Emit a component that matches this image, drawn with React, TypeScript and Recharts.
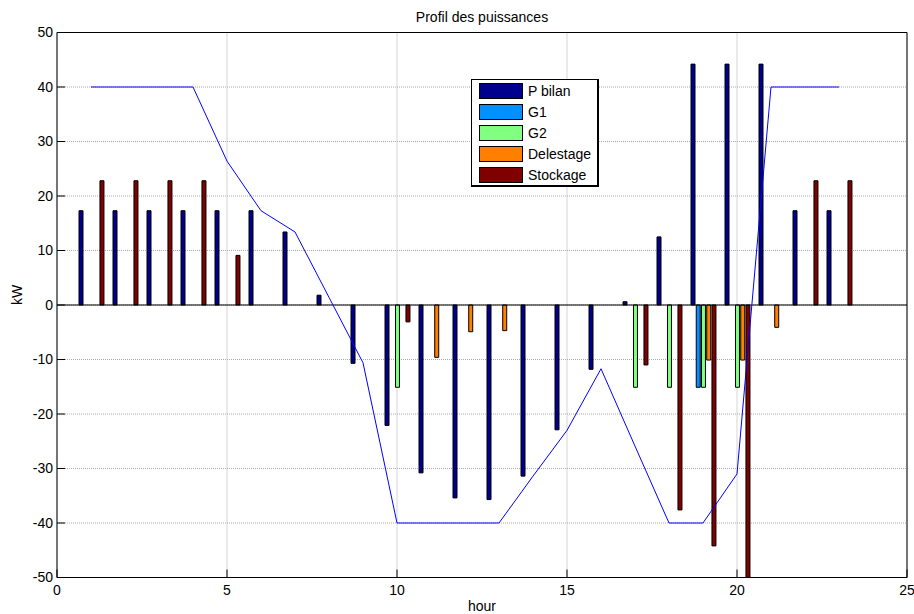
import React from 'react';
import { ComposedChart, Bar, Line, XAxis, YAxis, CartesianGrid, Legend, ReferenceLine } from 'recharts';

// heures 1..23
const HOURS = [1, 2, 3, 4, 5, 6, 7, 8, 9, 10, 11, 12, 13, 14, 15, 16, 17, 18, 19, 20, 21, 22, 23];

const P_BILAN = [17.3, 17.3, 17.3, 17.3, 17.3, 17.3, 13.4, 1.8, -10.7, -22.1, -30.8, -35.4, -35.7, -31.4, -22.9, -11.8, 0.6, 12.5, 44.2, 44.2, 44.2, 17.3, 17.3];
const G1 = [null, null, null, null, null, null, null, null, null, null, null, null, null, null, null, null, null, null, -15.1, null, null, null, null];
const G2 = [null, null, null, null, null, null, null, null, null, -15.1, null, null, null, null, null, null, -15.1, -15.1, -15.1, -15.1, null, null, null];
const DELESTAGE = [null, null, null, null, null, null, null, null, null, null, -9.6, -4.9, -4.7, null, null, null, null, null, -10.1, -10.1, -4.1, null, null];
const STOCKAGE = [22.8, 22.8, 22.8, 22.8, 9.1, null, null, null, null, -3.1, null, null, null, null, null, null, -11.0, -37.6, -44.2, -50, null, 22.8, 22.8];
// courbe bleue (sans légende)
const NIVEAU = [40, 40, 40, 40, 26.4, 17.3, 13.4, 1.4, -10.6, -40, -40, -40, -40, -31.4, -23.0, -11.7, -25.9, -40, -40, -31, 40, 40, 40];

const X_TICKS = [0, 5, 10, 15, 20, 25];
const Y_TICKS = [-50, -40, -30, -20, -10, 0, 10, 20, 30, 40, 50];

const SERIES = [
  { key: 'pBilan', name: 'P bilan', color: '#00008f' },
  { key: 'g1', name: 'G1', color: '#0090ff' },
  { key: 'g2', name: 'G2', color: '#80ff80' },
  { key: 'delestage', name: 'Delestage', color: '#ff7f00' },
  { key: 'stockage', name: 'Stockage', color: '#800000' },
];

const rows = HOURS.map((h, i) => ({
  hour: h,
  pBilan: P_BILAN[i],
  g1: G1[i],
  g2: G2[i],
  delestage: DELESTAGE[i],
  stockage: STOCKAGE[i],
  niveau: NIVEAU[i],
}));

const FONT = '"Liberation Sans", Arial, sans-serif';
const tickStyle = { fontSize: 14, fill: '#000', fontFamily: FONT };

// légende dans l'ordre des séries (recharts trie par nom)
function LegendBox({ payload }: any) {
  const items = SERIES.map(s => (payload || []).find((p: any) => p.dataKey === s.key) || { value: s.name, color: s.color });
  return (
    <div style={{ border: '1px solid #000', borderRightWidth: 2, borderBottomWidth: 2, background: '#fff', width: 128, height: 108, paddingTop: 1, boxSizing: 'border-box', fontFamily: FONT, fontSize: 14, color: '#000' }}>
      {items.map((p: any) => (
        <div key={p.value} style={{ display: 'flex', alignItems: 'center', height: 20.8 }}>
          <span style={{ display: 'inline-block', marginLeft: 7, width: 44, height: 16, boxSizing: 'border-box', border: '1px solid #000', background: p.color }} />
          <span style={{ marginLeft: 5, lineHeight: '16px' }}>{p.value}</span>
        </div>
      ))}
    </div>
  );
}

export default function App() {
  return (
    <div style={{ position: 'absolute', left: 0, top: 0, width: 914, height: 614, background: '#fff' }}>
      <ComposedChart width={914} height={614} data={rows} margin={{ top: 31.5, right: 6, bottom: 0, left: 0 }} barGap={1.24}>
        <CartesianGrid stroke="#aaa" strokeDasharray="1 1" horizontalValues={Y_TICKS} verticalValues={X_TICKS} />
        <XAxis
          dataKey="hour"
          type="number"
          domain={[0, 25]}
          ticks={X_TICKS}
          allowDataOverflow
          height={36.5}
          tickSize={-8}
          tickMargin={16}
          tick={tickStyle}
          axisLine={{ stroke: '#000' }}
          tickLine={{ stroke: '#000' }}
          label={{ value: 'hour', position: 'insideBottom', offset: 3, style: { fontSize: 14, fill: '#000', fontFamily: FONT } }}
        />
        <XAxis
          xAxisId="top"
          orientation="top"
          type="number"
          domain={[0, 25]}
          ticks={X_TICKS}
          allowDataOverflow
          height={1}
          tickSize={-8}
          tick={false}
          axisLine={{ stroke: '#000' }}
          tickLine={{ stroke: '#000' }}
          label={{ value: 'Profil des puissances', position: 'top', offset: 10, style: { fontSize: 14, fill: '#000', fontFamily: FONT } }}
        />
        <YAxis
          type="number"
          domain={[-50, 50]}
          ticks={Y_TICKS}
          allowDataOverflow
          width={57}
          tickSize={-8}
          tickMargin={12}
          tick={tickStyle}
          axisLine={{ stroke: '#000' }}
          tickLine={{ stroke: '#000' }}
          label={{ value: 'kW', angle: -90, position: 'insideLeft', offset: 17, style: { fontSize: 14, fill: '#000', fontFamily: FONT } }}
        />
        <YAxis
          yAxisId="right"
          orientation="right"
          type="number"
          domain={[-50, 50]}
          ticks={Y_TICKS}
          allowDataOverflow
          width={1}
          tickSize={-8}
          tick={false}
          axisLine={{ stroke: '#000' }}
          tickLine={{ stroke: '#000' }}
        />
        <ReferenceLine y={0} stroke="#000" />
        {SERIES.map(s => (
          <Bar key={s.key} dataKey={s.key} name={s.name} fill={s.color} stroke="#000" strokeWidth={1} barSize={4} isAnimationActive={false} />
        ))}
        <Line dataKey="niveau" type="linear" stroke="#0000ff" strokeWidth={1} dot={false} activeDot={false} legendType="none" isAnimationActive={false} />
        <Legend
          layout="vertical"
          align="center"
          verticalAlign="middle"
          content={<LegendBox />}
          wrapperStyle={{ left: 471, top: 79, width: 128, height: 108 }}
        />
      </ComposedChart>
    </div>
  );
}
